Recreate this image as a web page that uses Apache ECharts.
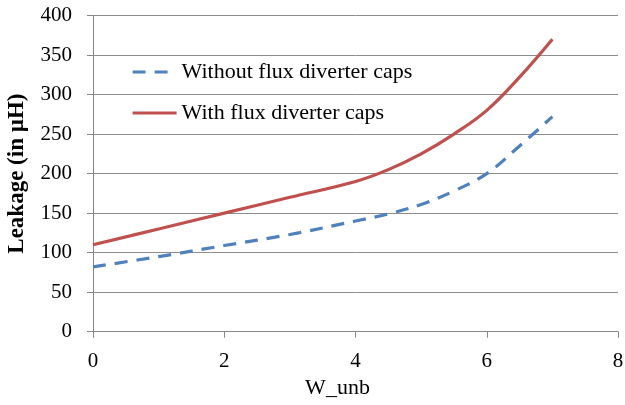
<!DOCTYPE html>
<html>
<head>
<meta charset="utf-8">
<script src="https://cdn.jsdelivr.net/npm/echarts@6/dist/echarts.min.js"></script>
<style>
html,body{margin:0;padding:0;background:#fff;}
#chart{width:625px;height:405px;}
</style>
</head>
<body>
<div id="chart"></div>
<script>
var seriesNames = ['Without flux diverter caps', 'With flux diverter caps'];
var withoutX = [0, 1, 2, 3, 4, 4.5, 5, 5.5, 6, 6.5, 7];
var withoutY = [82, 95, 109, 123, 140, 149, 161, 178, 200, 235, 272];
var withX = [0, 1, 2, 3, 4, 4.5, 5, 5.5, 6, 6.5, 7];
var withY = [110, 130, 150, 170, 190, 205, 225, 250, 280, 322, 370];
var xTicks = [0, 2, 4, 6, 8];
var yTicks = [0, 50, 100, 150, 200, 250, 300, 350, 400];
var xTitle = 'W_unb';
var yTitle = 'Leakage (in µH)';

function pairs(xs, ys) { return xs.map(function (x, i) { return [x, ys[i]]; }); }

var font = 'Liberation Serif, Times New Roman, serif';
var chart = echarts.init(document.getElementById('chart'), null, {renderer: 'canvas'});
chart.setOption({
  animation: false,
  backgroundColor: '#ffffff',
  grid: {left: 93, right: 7, top: 15.5, bottom: 73.3, containLabel: false, outerBoundsMode: 'none'},
  legend: {
    orient: 'vertical', left: 126, top: 54, padding: 5,
    itemWidth: 44, itemHeight: 14, itemGap: 15,
    itemStyle: {opacity: 0},
    lineStyle: {width: 3.2},
    textStyle: {fontFamily: font, fontSize: 22, color: '#000', lineHeight: 26},
    data: seriesNames
  },
  xAxis: {
    type: 'value', min: xTicks[0], max: xTicks[xTicks.length - 1], interval: 2,
    name: xTitle, nameLocation: 'middle', nameGap: 46,
    nameTextStyle: {fontFamily: font, fontSize: 22, color: '#000', padding: [0, 36, 0, 0]},
    axisLine: {show: true, lineStyle: {color: '#868686', width: 1}},
    axisTick: {show: true, length: 6, lineStyle: {color: '#868686'}},
    axisLabel: {fontFamily: font, fontSize: 21, color: '#000', margin: 19},
    splitLine: {show: false}
  },
  yAxis: {
    type: 'value', min: yTicks[0], max: yTicks[yTicks.length - 1], interval: 50,
    name: yTitle, nameLocation: 'middle', nameGap: 64, nameRotate: 90,
    nameTextStyle: {fontFamily: font, fontSize: 23, fontWeight: 'bold', color: '#000'},
    axisLine: {show: true, lineStyle: {color: '#868686', width: 1}},
    axisTick: {show: true, length: 6, lineStyle: {color: '#868686'}},
    axisLabel: {fontFamily: font, fontSize: 21, color: '#000', margin: 21},
    splitLine: {show: true, lineStyle: {color: '#8c8c8c', width: 1}}
  },
  series: [
    {
      name: seriesNames[0], type: 'line', smooth: 0.4, symbol: 'none',
      data: pairs(withoutX, withoutY),
      lineStyle: {color: '#4F81BD', width: 3.2, type: [13, 9]},
      itemStyle: {color: '#4F81BD'}
    },
    {
      name: seriesNames[1], type: 'line', smooth: 0.4, symbol: 'none',
      data: pairs(withX, withY),
      lineStyle: {color: '#C0504D', width: 3.2},
      itemStyle: {color: '#C0504D'}
    }
  ]
});
</script>
</body>
</html>
